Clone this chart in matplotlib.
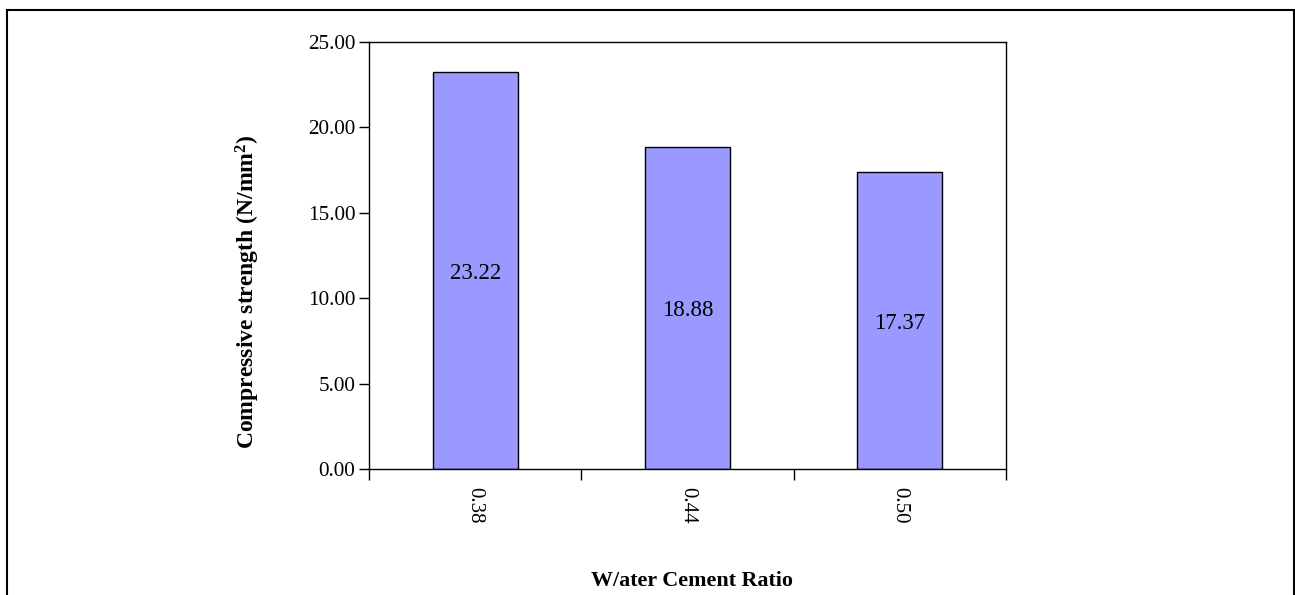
import matplotlib
matplotlib.use("Agg")
import matplotlib.pyplot as plt
from matplotlib.patches import Rectangle

categories = ["0.38", "0.44", "0.50"]
strength = [23.22, 18.88, 17.37]
yticks = [0, 5, 10, 15, 20, 25]

plt.rcParams['font.family'] = ['Liberation Serif', 'DejaVu Serif']
plt.rcParams['mathtext.fontset'] = 'custom'
plt.rcParams['mathtext.rm'] = 'Liberation Serif'
plt.rcParams['mathtext.bf'] = 'Liberation Serif:bold'

W, H = 1295, 595
fig = plt.figure(figsize=(W / 100, H / 100), dpi=100)

# outer frame
fig.patches.append(Rectangle((7 / W, -0.05), (1294 - 7) / W, 1.05 - 10 / H,
                             transform=fig.transFigure, fill=False,
                             edgecolor='black', linewidth=1.5))

ax = fig.add_axes([369 / W, 1 - 469 / H, (1006 - 369) / W, (469 - 42) / H])
x = list(range(len(categories)))
bars = ax.bar(x, strength, width=0.4, color='#9999FF', edgecolor='black', linewidth=1.0)
for xi, v in zip(x, strength):
    ax.text(xi, v / 2, f"{v:.2f}", ha='center', va='center_baseline', fontsize=16.5)

ax.set_xlim(-0.5, len(categories) - 0.5)
ax.set_ylim(0, 25)
ax.set_yticks(yticks)
ax.set_yticklabels([f"{t:.2f}" for t in yticks], fontsize=15.2)
ax.tick_params(axis='y', direction='out', length=7, width=1, pad=3)

ax.set_xticks([i - 0.5 for i in range(len(categories) + 1)])
ax.set_xticklabels([])
ax.set_xticks(x, minor=True)
ax.set_xticklabels(categories, minor=True, rotation=-90, fontsize=15)
ax.tick_params(axis='x', which='major', direction='out', length=8, width=1)
ax.tick_params(axis='x', which='minor', length=0, pad=13)

for s in ax.spines.values():
    s.set_linewidth(1.0)

fig.text(248 / W, 1 - 292 / H, "Compressive strength (N/mm$\\mathbf{^2}$)",
         rotation=90, ha='center', va='center', fontsize=17, fontweight='bold')
fig.text(692 / W, 1 - 581 / H, "W/ater Cement Ratio", ha='center', va='center',
         fontsize=15.8, fontweight='bold')

fig.savefig("out.png", dpi=100)
